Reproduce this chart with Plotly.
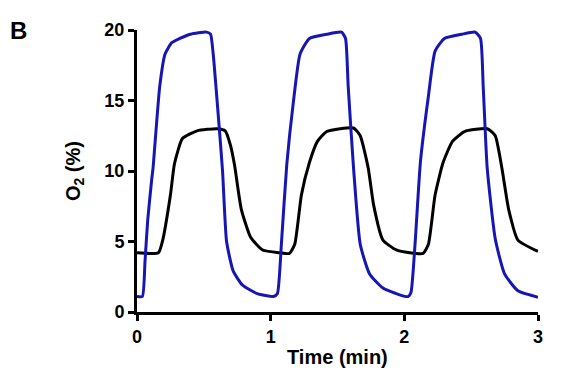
import plotly.graph_objects as go

# Blue trace (time in min, O2 %)
blue_t = [0.00, 0.04, 0.06, 0.08, 0.11, 0.12, 0.17, 0.21, 0.26, 0.32, 0.40, 0.52, 0.55, 0.57, 0.61, 0.64,
          0.67, 0.72, 0.79, 0.90, 1.02, 1.05, 1.08, 1.12, 1.17, 1.22, 1.29, 1.42, 1.53, 1.56, 1.58, 1.62,
          1.67, 1.74, 1.84, 1.97, 2.03, 2.05, 2.08, 2.12, 2.18, 2.23, 2.30, 2.43, 2.53, 2.57, 2.59, 2.62,
          2.68, 2.75, 2.85, 3.00]
blue_o2 = [1.1, 1.1, 3.6, 6.5, 9.4, 10.2, 16.0, 18.3, 19.1, 19.4, 19.7, 19.85, 19.7, 18.3, 13.7, 10.0,
           5.0, 2.9, 1.9, 1.3, 1.1, 1.3, 4.8, 10.4, 14.9, 18.3, 19.4, 19.7, 19.85, 19.4, 16.0, 10.2,
           4.8, 2.7, 1.7, 1.2, 1.1, 1.4, 4.8, 10.6, 15.3, 18.5, 19.4, 19.7, 19.85, 19.4, 16.0, 10.2,
           5.2, 2.7, 1.5, 1.05]

# Black trace
black_t = [0.00, 0.16, 0.19, 0.25, 0.28, 0.34, 0.45, 0.60, 0.66, 0.70, 0.73, 0.78, 0.85, 0.94, 1.07,
           1.14, 1.18, 1.23, 1.29, 1.35, 1.42, 1.62, 1.67, 1.73, 1.77, 1.84, 1.94, 2.04,
           2.14, 2.18, 2.23, 2.29, 2.36, 2.45, 2.62, 2.68, 2.73, 2.78, 2.85, 3.00]
black_o2 = [4.2, 4.2, 5.0, 8.3, 10.5, 12.3, 12.85, 13.0, 12.85, 11.8, 10.4, 7.3, 5.3, 4.4, 4.2,
            4.15, 4.8, 8.3, 10.6, 12.1, 12.8, 13.05, 12.5, 10.2, 7.6, 5.1, 4.4, 4.2,
            4.15, 4.8, 8.3, 10.6, 12.1, 12.8, 13.0, 12.5, 10.2, 7.3, 5.1, 4.3]

x_ticks = [0, 1, 2, 3]
y_ticks = [0, 5, 10, 15, 20]

FONT = "Liberation Sans, Arial, sans-serif"

fig = go.Figure()
fig.add_trace(go.Scatter(x=black_t, y=black_o2, mode="lines",
                         line=dict(color="black", width=3, shape="spline", smoothing=0.5)))
fig.add_trace(go.Scatter(x=blue_t, y=blue_o2, mode="lines",
                         line=dict(color="#1616b2", width=3, shape="spline", smoothing=0.5)))

axis_common = dict(showgrid=False, zeroline=False, showline=True, linecolor="black", linewidth=3,
                   ticks="outside", ticklen=6, tickwidth=3, tickcolor="black",
                   tickfont=dict(family=FONT, size=18, color="black", weight="bold"))

fig.update_layout(
    width=572, height=382,
    margin=dict(l=129, r=42, t=16, b=78),
    paper_bgcolor="white", plot_bgcolor="white",
    showlegend=False,
    xaxis=dict(range=[0, 3], tickvals=x_ticks, **axis_common),
    yaxis=dict(range=[0, 20], tickvals=y_ticks, **axis_common),
    annotations=[
        dict(text="<b>Time (min)</b>", xref="paper", yref="paper", x=0.5, y=-0.16, yanchor="middle",
             showarrow=False, font=dict(family=FONT, size=20, color="black")),
        dict(text="<b>O<sub>2</sub> (%)</b>", xref="paper", yref="paper", x=-0.157, y=0.5,
             xanchor="center", yanchor="middle", textangle=-90,
             showarrow=False, font=dict(family=FONT, size=20, color="black")),
        dict(text="<b>B</b>", xref="paper", yref="paper", x=-0.322, y=1.052, xanchor="left", yanchor="top",
             showarrow=False, font=dict(family=FONT, size=24, color="black")),
    ],
)

fig.write_html("out.html")
